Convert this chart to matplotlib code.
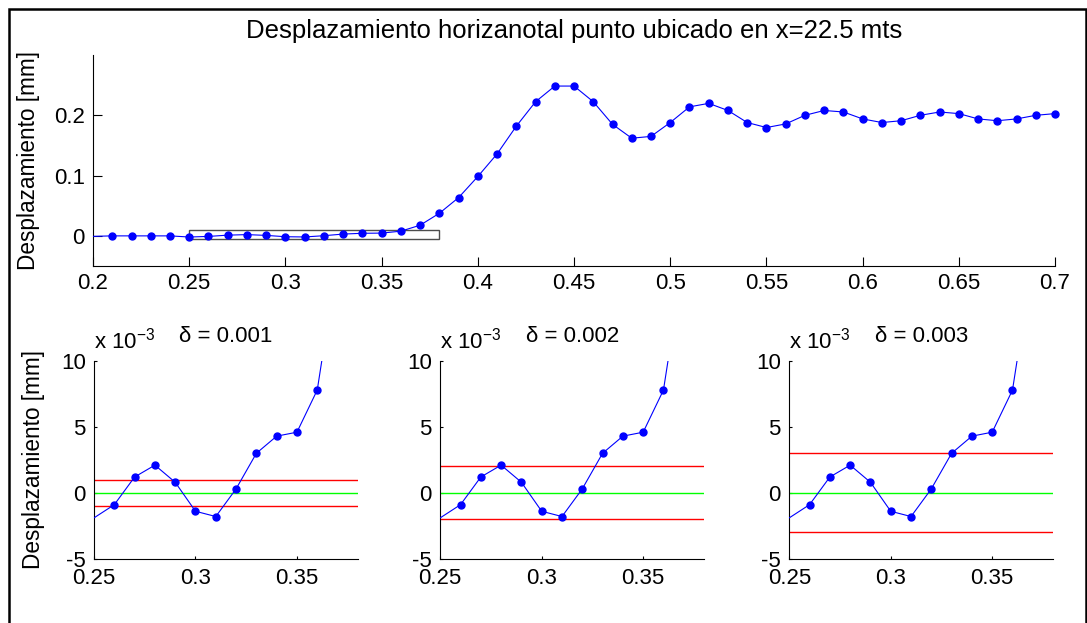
import numpy as np
import matplotlib.pyplot as plt
from matplotlib.patches import Rectangle

plt.rcParams["font.family"] = ["Liberation Sans", "DejaVu Sans"]
plt.rcParams["mathtext.fontset"] = "custom"
plt.rcParams["mathtext.rm"] = "Liberation Sans"
plt.rcParams["mathtext.it"] = "Liberation Sans:italic"

# Time samples [s] and horizontal displacement [mm] of the point at x=22.5 m
t = [0.20, 0.21, 0.22, 0.23, 0.24, 0.25, 0.26, 0.27, 0.28, 0.29,
     0.30, 0.31, 0.32, 0.33, 0.34, 0.35, 0.36, 0.37, 0.38, 0.39,
     0.40, 0.41, 0.42, 0.43, 0.44, 0.45, 0.46, 0.47, 0.48, 0.49,
     0.50, 0.51, 0.52, 0.53, 0.54, 0.55, 0.56, 0.57, 0.58, 0.59,
     0.60, 0.61, 0.62, 0.63, 0.64, 0.65, 0.66, 0.67, 0.68, 0.69,
     0.70]
desp = [-0.0008, 0.0, 0.0, 0.0, 0.0, -0.0019, -0.0009, 0.0012, 0.0021, 0.0008,
        -0.0014, -0.0018, 0.0003, 0.0030, 0.0043, 0.0046, 0.0078, 0.0177, 0.0375, 0.0635,
        0.0985, 0.136, 0.182, 0.2225, 0.2485, 0.2485, 0.2225, 0.185, 0.162, 0.165,
        0.188, 0.214, 0.2198, 0.208, 0.188, 0.1797, 0.1857, 0.200, 0.208, 0.2055,
        0.194, 0.188, 0.191, 0.200, 0.2055, 0.2028, 0.194, 0.191, 0.194, 0.200,
        0.2028]

# Tolerances shown in the zoomed panels
deltas = [0.001, 0.002, 0.003]

top_xticks = [0.2, 0.25, 0.3, 0.35, 0.4, 0.45, 0.5, 0.55, 0.6, 0.65, 0.7]
top_xticklabels = ["0.2", "0.25", "0.3", "0.35", "0.4", "0.45", "0.5", "0.55", "0.6", "0.65", "0.7"]
top_yticks = [0.0, 0.1, 0.2]
top_yticklabels = ["0", "0.1", "0.2"]

zoom_xlim = (0.25, 0.38)
zoom_ylim = (-0.005, 0.010)
zoom_xticks = [0.25, 0.3, 0.35]
zoom_xticklabels = ["0.25", "0.3", "0.35"]
zoom_yticks = [-0.005, 0.0, 0.005, 0.010]
zoom_yticklabels = ["-5", "0", "5", "10"]

FS = 16
t_arr = np.array(t)
d_arr = np.array(desp)


def plot_series(ax, xlim, ylim):
    """Line clipped to the axes, markers only for samples inside the limits."""
    ax.plot(t_arr, d_arr, color="blue", lw=0.8, zorder=3)
    inside = ((t_arr > xlim[0]) & (t_arr <= xlim[1])
              & (d_arr >= ylim[0]) & (d_arr <= ylim[1]))
    ax.plot(t_arr[inside], d_arr[inside], "o", color="blue", ms=5,
            clip_on=False, zorder=4)
    ax.set_xlim(*xlim)
    ax.set_ylim(*ylim)


def style_axes(ax, ticklen, xpad=5):
    for side in ("top", "right"):
        ax.spines[side].set_visible(False)
    for side in ("left", "bottom"):
        ax.spines[side].set_linewidth(0.8)
    ax.tick_params(direction="in", length=ticklen, width=0.8, labelsize=FS)
    ax.tick_params(axis="y", pad=6)
    ax.tick_params(axis="x", pad=xpad)


fig = plt.figure(figsize=(10.87, 6.23), dpi=100)

# Full-time record
ax = fig.add_axes([0.0856, 0.573, 0.885, 0.3387])
plot_series(ax, (0.2, 0.7), (-0.05, 0.3))
ax.add_patch(Rectangle((zoom_xlim[0], zoom_ylim[0]),
                       zoom_xlim[1] - zoom_xlim[0], zoom_ylim[1] - zoom_ylim[0],
                       fill=False, edgecolor="0.3", lw=1.0, zorder=2))
ax.set_xticks(top_xticks)
ax.set_xticklabels(top_xticklabels)
ax.set_yticks(top_yticks)
ax.set_yticklabels(top_yticklabels)
style_axes(ax, 6.5)
ax.set_title("Desplazamiento horizanotal punto ubicado en x=22.5 mts", fontsize=18.5, pad=12)
ax.set_ylabel("Desplazamiento [mm]", fontsize=16.3)
ax.yaxis.set_label_coords(-0.0556, 0.5)

# Zoomed panels around the start of motion, one per tolerance
lefts = [0.0865, 0.405, 0.7261]
panel_h = 0.3173
for i, (left, delta) in enumerate(zip(lefts, deltas)):
    ax = fig.add_axes([left, 0.1032, 0.2427, panel_h])
    ax.axhline(delta, color="red", lw=1.0, zorder=2)
    ax.axhline(-delta, color="red", lw=1.0, zorder=2)
    ax.axhline(0.0, color="#00ff00", lw=1.0, zorder=2)
    plot_series(ax, zoom_xlim, zoom_ylim)
    ax.set_xticks(zoom_xticks)
    ax.set_xticklabels(zoom_xticklabels)
    ax.set_yticks(zoom_yticks)
    ax.set_yticklabels(zoom_yticklabels)
    style_axes(ax, 2.5, xpad=6.5)
    ax.set_title(f"δ = {delta:.3f}", fontsize=FS, pad=14)
    ax.text(0.0, 1.0 + 13 / (panel_h * 623), r"x 10$^{-3}$", transform=ax.transAxes,
            fontsize=FS, ha="left", va="baseline")
    if i == 0:
        ax.set_ylabel("Desplazamiento [mm]", fontsize=16.3)
        ax.yaxis.set_label_coords(-0.184, 0.5)

# Figure frame
fig.patches.append(Rectangle((9 / 1087, -0.02), (1085.5 - 9) / 1087, 1.02 - 9 / 623,
                             transform=fig.transFigure, fill=False,
                             edgecolor="black", lw=1.8))

fig.savefig("out.png", dpi=100)
